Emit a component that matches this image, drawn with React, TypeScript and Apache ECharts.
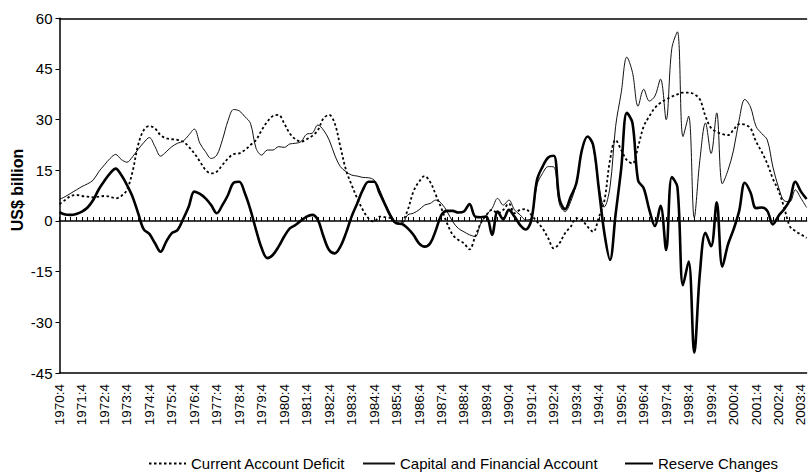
import React, { useEffect, useRef } from "react";
import * as echarts from "echarts";

// Quarterly categories from 1970:4 to 2004:1
const firstYear = 1970;
const firstQuarter = 4;
const quarterCount = 134;
const categories: string[] = [];
for (let k = 0; k < quarterCount; k++) {
  const q0 = firstQuarter - 1 + k;
  categories.push(`${firstYear + Math.floor(q0 / 4)}:${(q0 % 4) + 1}`);
}

const yTicks = { min: -45, max: 60, step: 15 };

const currentAccountDeficit = [
  5, 6.2, 7.4, 7.7, 7.4, 7.2, 7, 7.2, 7.4, 7.2,
  6.7, 7.4, 9.2, 14.6, 22.5, 26.9, 28.1, 27.4, 25.4, 24.5,
  24.2, 24, 23.5, 22, 20, 17.6, 15.1, 14.1, 14.6, 16.6,
  18.5, 19.8, 20, 21, 22.5, 24, 26.9, 29.4, 31.1, 31.4,
  28.9, 25.9, 24.2, 23.5, 24.2, 25.2, 26.9, 30.4, 31.4, 28.9,
  22, 15.1, 10.7, 6.7, 3.3, 0.8, -0.2, 1.3, 1.1, 0.8,
  -0.7, -0.2, 3.3, 8.7, 11.6, 13.3, 11.5, 7.7, 3.7, -0.7,
  -4.1, -5.6, -6.6, -8.4, -4.6, -0.7, 1.8, 3.3, 2.3, 3.3,
  5.2, 2.3, 3.3, 3.5, 1.8, -0.2, -2.2, -5.1, -8.1, -6.6,
  -3.6, -1.7, 0.8, 0.3, -1.7, -3.2, 1, 6, 18, 24,
  21, 18, 17, 22, 28, 31, 33.5, 35, 36, 36.8,
  37.5, 38, 38, 37.5, 36, 31, 27.5, 26.4, 25.7, 25.4,
  27, 28.7, 28.5, 27.5, 23.5, 20.5, 17, 12.5, 9, 4,
  -1.5, -3, -4, -5,
];

const capitalFinancialAccount = [
  6.4, 7.2, 8.2, 9.2, 10.2, 11, 12.1, 14.6, 16.6, 18.5,
  19.7, 18.2, 17.4, 19, 21.2, 23.2, 24.7, 22, 19.2, 20.5,
  22, 23, 23.6, 25.4, 27.2, 23, 20.5, 18.5, 19.5, 24,
  29.7, 33, 32.6, 30.9, 28.9, 21.5, 19.5, 21, 21, 22,
  21.8, 22.8, 23, 23.5, 25.7, 26, 28.4, 26.9, 24, 19.5,
  16.1, 14.6, 13.6, 13.3, 12.9, 12.8, 12.1, 9.2, 5.2, 1.8,
  -0.5, -0.7, 1.8, 2.3, 3.3, 4.7, 5.2, 6.2, 5.2, 2.8,
  -0.2, -2.2, -3.2, -4.1, -4.6, -0.7, 1.8, 3.7, 6.7, 4.7,
  6.2, 3.3, 1.8, 0.3, 0.8, 10.7, 14.1, 16.1, 16, 5,
  2.8, 5.7, 11.1, 21, 25, 22, 10.2, 4.2, 10, 28,
  38, 48.5, 44, 34, 39, 35.5, 37, 42, 30, 51,
  56, 25, 31, 1, 18, 29, 20, 32, 11, 15,
  21, 30, 36, 33.8, 28, 25.9, 24, 16, 10, 6,
  5.7, 9.2, 6.7, 4,
];

const reserveChanges = [
  2.6, 1.9, 1.8, 2.1, 2.8, 4, 6.2, 9.4, 11.9, 14.1,
  15.5, 13.6, 10.7, 7.2, 2.3, -2.5, -3.8, -6.6, -9.1, -6.1,
  -3.6, -2.7, 0.5, 4.2, 8.7, 8, 6.7, 4.7, 2.3, 4.7,
  7.7, 11.3, 11.6, 8.2, 3.3, -2.7, -8.1, -11, -10, -7.6,
  -4.6, -2.2, -1.2, 0.1, 1.3, 1.8, 0.3, -4.6, -8.6, -9.6,
  -7.6, -3.6, 1.3, 5.2, 9.2, 11.6, 11.6, 8.2, 4.7, 1.3,
  -0.7, -0.9, -2.2, -4.1, -6.6, -7.6, -6.6, -2.7, 1.8, 3,
  3, 2.5, 2.8, 5, 1.3, 1.1, 1.3, -4.1, 2.8, 0.5,
  3.3, 1.3, -1.2, -2.5, 0.3, 12.1, 16.1, 18.8, 19.3, 6.5,
  3.5, 7.2, 11.1, 21, 25, 22.5, 9.7, -3.6, -11.5, 2,
  15.6, 32, 29, 12, 9.7, 3.3, -1.5, 4.5, -8.6, 13,
  10, -19, -12, -39, -15.5, -3.5, -7.5, 5.5, -13.5, -7,
  -2.5, 3, 11.3, 8.5, 3.8, 4, 3, -1, 1.5, 3.5,
  6.2, 11.6, 8.7, 6.5,
];

const seriesNames = [
  "Current Account Deficit",
  "Capital and Financial Account",
  "Reserve Changes",
];

const FONT = "'Liberation Sans', Arial, Helvetica, sans-serif";

export default function App() {
  const ref = useRef<HTMLDivElement>(null);

  useEffect(() => {
    if (!ref.current) return;
    const chart = echarts.init(ref.current, undefined, { renderer: "svg" });
    const black = "#000";
    const legendBase = {
      top: 451,
      itemHeight: 14,
      textStyle: { color: black, fontSize: 15, fontFamily: FONT },
      itemStyle: { opacity: 0, borderWidth: 0 },
      selectedMode: false,
    };
    chart.setOption({
      animation: false,
      backgroundColor: "#fff",
      textStyle: { fontFamily: FONT, color: black },
      grid: { left: 59.5, right: 1.4, top: 18.3, bottom: 100, containLabel: false },
      legend: [
        { ...legendBase, left: 143, itemWidth: 37, data: [seriesNames[0]] },
        { ...legendBase, left: 357, itemWidth: 32, data: [seriesNames[1]] },
        { ...legendBase, left: 619, itemWidth: 28, data: [seriesNames[2]] },
      ],
      xAxis: [
        {
          type: "category",
          data: categories,
          boundaryGap: false,
          position: "bottom",
          axisLine: { onZero: false, lineStyle: { color: black, width: 1.5 } },
          axisTick: { show: false },
          axisLabel: {
            rotate: 90,
            interval: 3,
            margin: 11,
            fontSize: 13.5,
            color: black,
            fontFamily: FONT,
          },
          splitLine: { show: false },
        },
        {
          type: "category",
          data: categories,
          boundaryGap: false,
          position: "bottom",
          axisLine: { onZero: true, lineStyle: { color: black, width: 1.5 } },
          axisTick: { show: true, inside: true, length: 4, interval: 0, lineStyle: { color: black, width: 1 } },
          axisLabel: { show: false },
          splitLine: { show: false },
        },
        {
          type: "category",
          data: categories,
          boundaryGap: false,
          position: "top",
          axisLine: { onZero: false, lineStyle: { color: black, width: 1.5 } },
          axisTick: { show: false },
          axisLabel: { show: false },
          splitLine: { show: false },
        },
      ],
      yAxis: {
        type: "value",
        min: yTicks.min,
        max: yTicks.max,
        interval: yTicks.step,
        axisLine: { show: true, onZero: false, lineStyle: { color: black, width: 1.5 } },
        axisTick: { show: true, length: 4, lineStyle: { color: black } },
        axisLabel: { fontSize: 15, color: black, margin: 7, fontFamily: FONT },
        splitLine: { show: false },
      },
      graphic: [
        {
          type: "text",
          x: 17.5,
          y: 190,
          rotation: Math.PI / 2,
          style: {
            text: "US$ billion",
            fill: black,
            font: `bold 16px ${FONT}`,
            textAlign: "center",
            textVerticalAlign: "middle",
          },
        },
      ],
      series: [
        {
          name: seriesNames[0],
          type: "line",
          data: currentAccountDeficit,
          xAxisIndex: 0,
          symbol: "none",
          smooth: 0.35,
          lineStyle: { color: black, width: 1.8, type: [2.5, 2.5] },
          itemStyle: { color: black },
          z: 2,
        },
        {
          name: seriesNames[1],
          type: "line",
          data: capitalFinancialAccount,
          xAxisIndex: 0,
          symbol: "none",
          smooth: 0.35,
          lineStyle: { color: "#111", width: 1 },
          itemStyle: { color: black },
          z: 3,
        },
        {
          name: seriesNames[2],
          type: "line",
          data: reserveChanges,
          xAxisIndex: 0,
          symbol: "none",
          smooth: 0.35,
          lineStyle: { color: black, width: 2.6 },
          itemStyle: { color: black },
          z: 4,
        },
      ],
    });
    return () => chart.dispose();
  }, []);

  return (
    <div
      ref={ref}
      style={{ position: "fixed", left: 0, top: 0, width: 808, height: 473, background: "#fff" }}
    />
  );
}
